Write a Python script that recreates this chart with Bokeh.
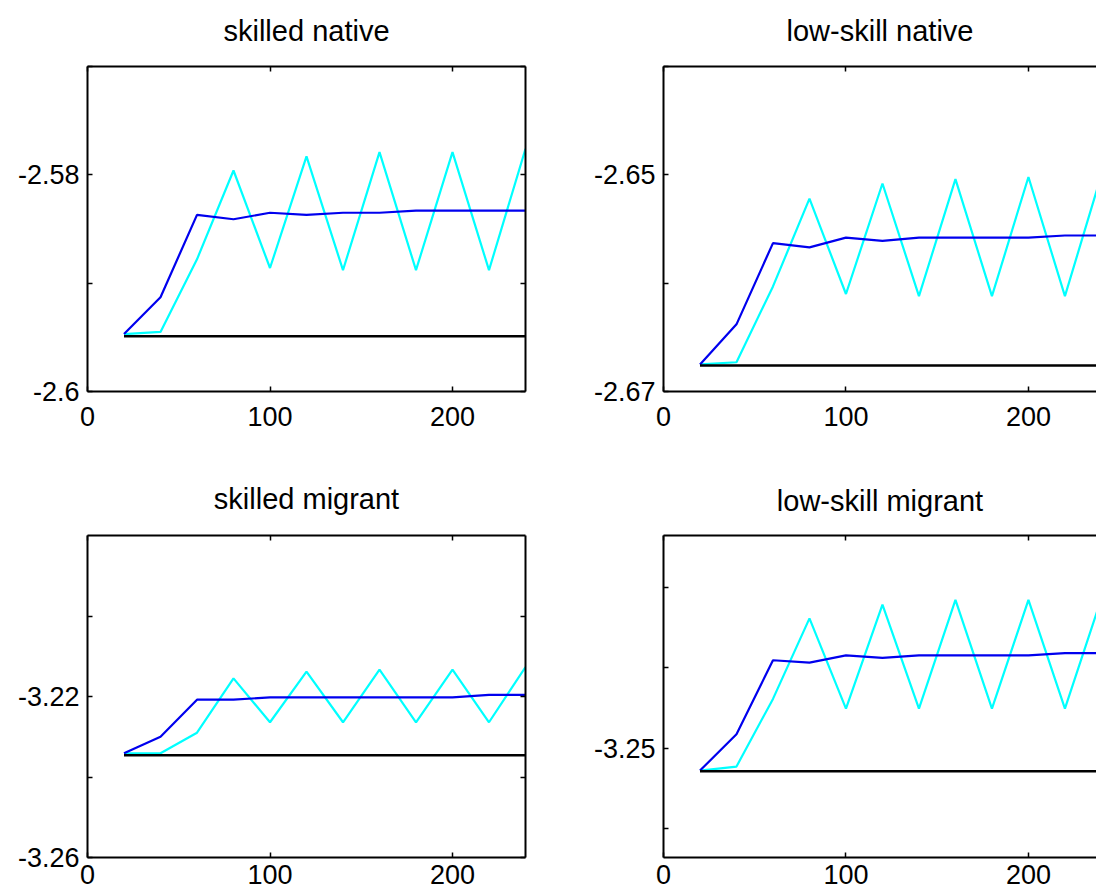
from bokeh.plotting import figure
from bokeh.layouts import row, column
from bokeh.models import LinearAxis, FixedTicker, Range1d
from bokeh.embed import file_html
from bokeh.resources import INLINE

periods = [20, 40, 60, 80, 100, 120, 140, 160, 180, 200, 220, 240]
panel_titles = ["skilled native", "low-skill native", "skilled migrant", "low-skill migrant"]
x_ticks = [0, 100, 200]

sn_blue = [-2.5947, -2.5913, -2.5837, -2.5841, -2.5835, -2.5837, -2.5835, -2.5835, -2.5833, -2.5833, -2.5833, -2.5833]
sn_cyan = [-2.5947, -2.5945, -2.5878, -2.5796, -2.5886, -2.5783, -2.5888, -2.5779, -2.5888, -2.5779, -2.5888, -2.5776]
sn_base = [-2.5949, -2.5949, -2.5949, -2.5949, -2.5949, -2.5949, -2.5949, -2.5949, -2.5949, -2.5949, -2.5949, -2.5949]
sn_major = [-2.6, -2.58]
sn_labels = ["-2.6", "-2.58"]
sn_minor = [-2.59, -2.57]

ln_blue = [-2.6675, -2.6638, -2.6563, -2.6567, -2.6558, -2.6561, -2.6558, -2.6558, -2.6558, -2.6558, -2.6556, -2.6556]
ln_cyan = [-2.6675, -2.6673, -2.6603, -2.6522, -2.6610, -2.6508, -2.6612, -2.6504, -2.6612, -2.6502, -2.6612, -2.6500]
ln_base = [-2.6676, -2.6676, -2.6676, -2.6676, -2.6676, -2.6676, -2.6676, -2.6676, -2.6676, -2.6676, -2.6676, -2.6676]
ln_major = [-2.67, -2.65]
ln_labels = ["-2.67", "-2.65"]
ln_minor = [-2.66, -2.64]

sm_blue = [-3.2341, -3.2300, -3.2208, -3.2208, -3.2202, -3.2202, -3.2202, -3.2202, -3.2202, -3.2202, -3.2196, -3.2196]
sm_cyan = [-3.2341, -3.2341, -3.2290, -3.2155, -3.2264, -3.2138, -3.2264, -3.2133, -3.2264, -3.2133, -3.2264, -3.2127]
sm_base = [-3.2346, -3.2346, -3.2346, -3.2346, -3.2346, -3.2346, -3.2346, -3.2346, -3.2346, -3.2346, -3.2346, -3.2346]
sm_major = [-3.26, -3.22]
sm_labels = ["-3.26", "-3.22"]
sm_minor = [-3.24, -3.20]

lm_blue = [-3.2528, -3.2483, -3.2391, -3.2394, -3.2385, -3.2388, -3.2385, -3.2385, -3.2385, -3.2385, -3.2382, -3.2382]
lm_cyan = [-3.2528, -3.2523, -3.2439, -3.2339, -3.2451, -3.2322, -3.2451, -3.2316, -3.2451, -3.2316, -3.2451, -3.2314]
lm_base = [-3.2529, -3.2529, -3.2529, -3.2529, -3.2529, -3.2529, -3.2529, -3.2529, -3.2529, -3.2529, -3.2529, -3.2529]
lm_major = [-3.25]
lm_labels = ["-3.25"]
lm_minor = [-3.26, -3.24, -3.23]

FONT = "Liberation Sans"
TICK_FS = "27px"
TITLE_FS = "29px"


def style_axis(ax, major, minor, labels=None, standoff=8):
    ax.ticker = FixedTicker(ticks=major, minor_ticks=minor)
    ax.axis_line_color = "black"
    ax.axis_line_width = 2
    ax.major_tick_in = 5
    ax.major_tick_out = 0
    ax.major_tick_line_color = "black"
    ax.major_tick_line_width = 1.5
    ax.minor_tick_in = 5
    ax.minor_tick_out = 0
    ax.minor_tick_line_color = "black"
    ax.minor_tick_line_width = 1.5
    ax.major_label_text_font = FONT
    ax.major_label_text_color = "black"
    ax.major_label_text_font_style = "normal"
    ax.major_label_text_font_size = TICK_FS
    ax.major_label_standoff = standoff
    if labels is not None:
        ax.major_label_overrides = {t: l for t, l in zip(major, labels)}


def make_panel(title, blue, cyan, base, yr, ymajor, ylabels, yminor, xend,
               width, height, bl, br, bt, bb, title_gap,
               right_axis=True, bottom_standoff=15):
    p = figure(width=width, height=height, x_range=Range1d(0, xend), y_range=Range1d(*yr),
               output_backend="svg", toolbar_location=None,
               min_border_left=bl, min_border_right=br, min_border_top=bt, min_border_bottom=bb)
    p.outline_line_color = None
    p.xgrid.visible = False
    p.ygrid.visible = False
    p.background_fill_color = "white"
    p.border_fill_color = "white"

    style_axis(p.xaxis[0], x_ticks, [], labels=["0", "100", "200"], standoff=bottom_standoff)
    style_axis(p.yaxis[0], ymajor, yminor, labels=ylabels, standoff=8)

    # top axis: inward ticks only, carrying the panel title as its axis label
    top = LinearAxis(axis_label=title)
    style_axis(top, [], x_ticks, standoff=0)
    top.axis_label_text_font = FONT
    top.axis_label_text_font_size = TITLE_FS
    top.axis_label_text_font_style = "normal"
    top.axis_label_text_color = "black"
    top.axis_label_standoff = title_gap
    p.add_layout(top, "above")
    if right_axis:
        rgt = LinearAxis()
        style_axis(rgt, [], list(ymajor) + list(yminor), standoff=0)
        p.add_layout(rgt, "right")

    p.line(periods, cyan, line_color="#00ffff", line_width=2.2)
    p.line(periods, blue, line_color="#0000ee", line_width=2.2)
    p.line(periods, base, line_color="black", line_width=2.5)
    return p


p1 = make_panel(panel_titles[0], sn_blue, sn_cyan, sn_base, (-2.6, -2.57), sn_major, sn_labels, sn_minor, 240,
                560, 460, 87, 35, 66, 69, 20)
p2 = make_panel(panel_titles[1], ln_blue, ln_cyan, ln_base, (-2.67, -2.64), ln_major, ln_labels, ln_minor, 237.3,
                536, 460, 103, 0, 66, 69, 20, right_axis=False)
p3 = make_panel(panel_titles[2], sm_blue, sm_cyan, sm_base, (-3.26, -3.18), sm_major, sm_labels, sm_minor, 240,
                560, 436, 87, 35, 75, 39, 21, bottom_standoff=7)
p4 = make_panel(panel_titles[3], lm_blue, lm_cyan, lm_base, (-3.2636, -3.2236), lm_major, lm_labels, lm_minor, 237.3,
                536, 436, 103, 0, 72, 39, 19, right_axis=False, bottom_standoff=7)

layout = column(row(p1, p2), row(p3, p4))

open("out.html", "w").write(file_html(layout, INLINE))
